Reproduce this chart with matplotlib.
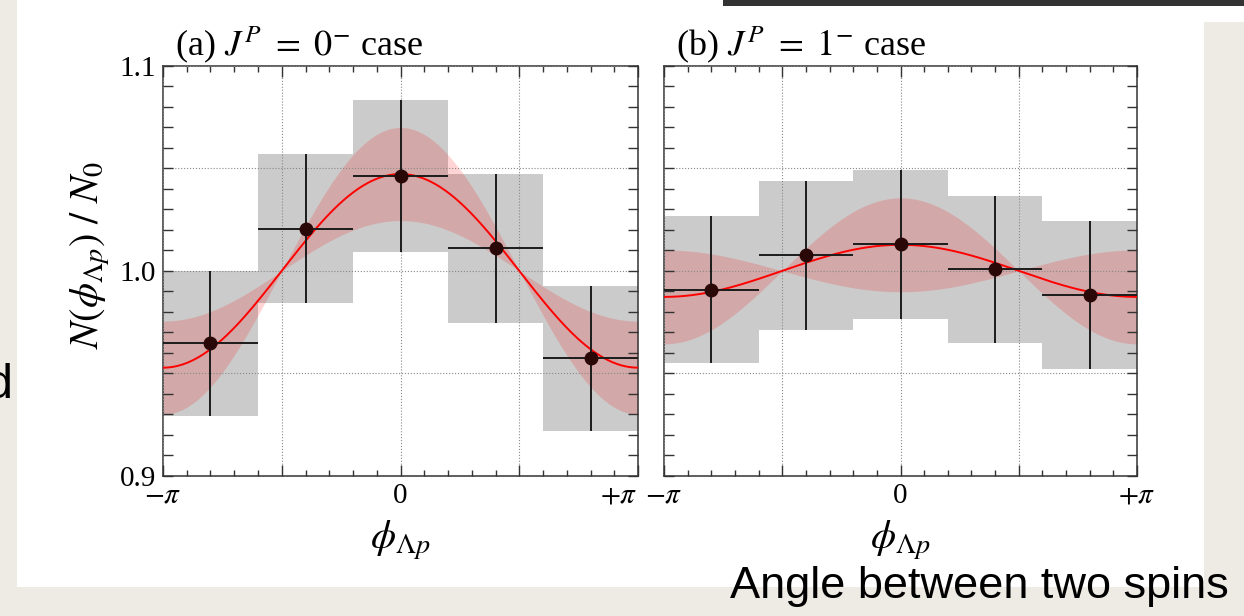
import numpy as np
import matplotlib
matplotlib.use("Agg")
import matplotlib.pyplot as plt
from matplotlib.patches import Rectangle
from matplotlib.ticker import FixedLocator, MultipleLocator, FixedFormatter

plt.rcParams['font.family'] = ['Liberation Serif', 'DejaVu Serif']
plt.rcParams['mathtext.fontset'] = 'stix'

# bin centres in units of pi, half bin width
bin_centres = [-0.8, -0.4, 0.0, 0.4, 0.8]
half_width = 0.2

# (a) J^P = 0- case
yield_a = [0.9646, 1.0205, 1.0463, 1.0109, 0.9573]
err_a = [0.0354, 0.0363, 0.0370, 0.0363, 0.0353]
# (b) J^P = 1- case
yield_b = [0.9909, 1.0075, 1.0129, 1.0007, 0.9882]
err_b = [0.0360, 0.0362, 0.0362, 0.0359, 0.0361]

# fitted cos(phi) amplitude and its uncertainty
fit_amp = [0.0472, 0.0127]
fit_err = [0.0227, 0.0229]

titles = [r'(a) $J^P\ =\ 0^{-}$ case', r'(b) $J^P\ =\ 1^{-}$ case']

W, H = 1244, 616
fig = plt.figure(figsize=(W / 100, H / 100), dpi=100)
fig.patch.set_facecolor('#eeebe4')

# slide background pieces
def px_rect(x0, y0, x1, y1, color):
    fig.patches.append(Rectangle((x0 / W, 1 - y1 / H), (x1 - x0) / W, (y1 - y0) / H,
                                 transform=fig.transFigure, color=color, zorder=-5, lw=0))

px_rect(17, 0, 1204, 587, 'white')
px_rect(1204, 0, W, 22, 'white')
px_rect(723, 0, W, 6, '#333333')

axes_pos = [[163 / W, 1 - 476 / H, 475 / W, 410.3 / H],
            [664 / W, 1 - 476 / H, 473 / W, 410.3 / H]]

phi = np.linspace(-np.pi, np.pi, 400)
xc = np.array(bin_centres) * np.pi
for i, (yv, ye) in enumerate([(yield_a, err_a), (yield_b, err_b)]):
    ax = fig.add_axes(axes_pos[i])
    yv = np.array(yv)
    ye = np.array(ye)
    # grey boxes = statistical error
    ax.bar(xc, 2 * ye, bottom=yv - ye, width=2 * half_width * np.pi,
           color='#cbcbcb', lw=0, zorder=1)
    # red band from fit
    up = 1 + (fit_amp[i] + fit_err[i]) * np.cos(phi)
    lo = 1 + (fit_amp[i] - fit_err[i]) * np.cos(phi)
    ax.fill_between(phi, np.minimum(up, lo), np.maximum(up, lo),
                    color='red', alpha=0.17, lw=0, zorder=1.5)
    ax.plot(phi, 1 + fit_amp[i] * np.cos(phi), color='red', lw=1.4, zorder=3)
    ax.errorbar(xc, yv, yerr=ye, xerr=half_width * np.pi, fmt='o', ms=9,
                color='#1c1c1c', mfc='#2b0808', mec='#2b0808', elinewidth=1.4,
                capsize=0, zorder=4)

    ax.set_xlim(-np.pi, np.pi)
    ax.set_ylim(0.9, 1.1)
    ax.set_axisbelow(False)
    ax.grid(True, ls=':', color='#888888', lw=0.8)

    ax.xaxis.set_major_locator(FixedLocator([-np.pi, -np.pi / 2, 0, np.pi / 2, np.pi]))
    ax.xaxis.set_minor_locator(MultipleLocator(np.pi / 10))
    ax.xaxis.set_major_formatter(FixedFormatter([r'$-\pi$', '', '0', '', r'$+\pi$']))
    ax.yaxis.set_major_locator(FixedLocator([0.9, 0.95, 1.0, 1.05, 1.1]))
    ax.yaxis.set_minor_locator(MultipleLocator(0.01))
    if i == 0:
        ax.yaxis.set_major_formatter(FixedFormatter(['0.9', '', '1.0', '', '1.1']))
        ax.set_ylabel(r'$N(\phi_{\Lambda p})\ /\ N_0$', fontsize=29)
        ax.yaxis.set_label_coords(-0.108, 0.54)
    else:
        ax.set_yticklabels([])
    ax.tick_params(which='both', direction='in', top=True, right=True,
                   color='#333333', labelsize=21, pad=5)
    ax.tick_params(axis='x', which='major', length=8, width=1)
    ax.tick_params(axis='x', which='minor', length=4, width=1)
    ax.tick_params(axis='y', which='both', length=7, width=1)
    for s in ax.spines.values():
        s.set_color('#333333')
        s.set_linewidth(1.1)
    if i == 0:
        fig.canvas.draw()
        ax.get_xticklabels()[-1].set_ha('right')
        ax.get_xticklabels()[-1].set_x(np.pi)
    ax.set_xlabel(r'$\phi_{\Lambda p}$', fontsize=29, labelpad=7)
    ax.text(0.025, 1.025, titles[i], transform=ax.transAxes, fontsize=26,
            ha='left', va='baseline')

# slide text around the figure
fig.text(730 / W, 1 - 598 / H, 'Angle between two spins', fontsize=32.5,
         family=['Liberation Sans', 'DejaVu Sans'], ha='left', va='baseline')
fig.text(12.5 / W, 1 - 398 / H, 'd', fontsize=35,
         family=['Liberation Sans', 'DejaVu Sans'], ha='right', va='baseline')
fig.text(75 / W, 1 - 647 / H, 'f       \u201c\u039b(0)\u201d              \u201d    /',
         fontsize=31, style='italic', weight='bold',
         family=['Liberation Sans', 'DejaVu Sans'], ha='left', va='baseline')

fig.savefig('out.png', dpi=100, facecolor=fig.get_facecolor())
